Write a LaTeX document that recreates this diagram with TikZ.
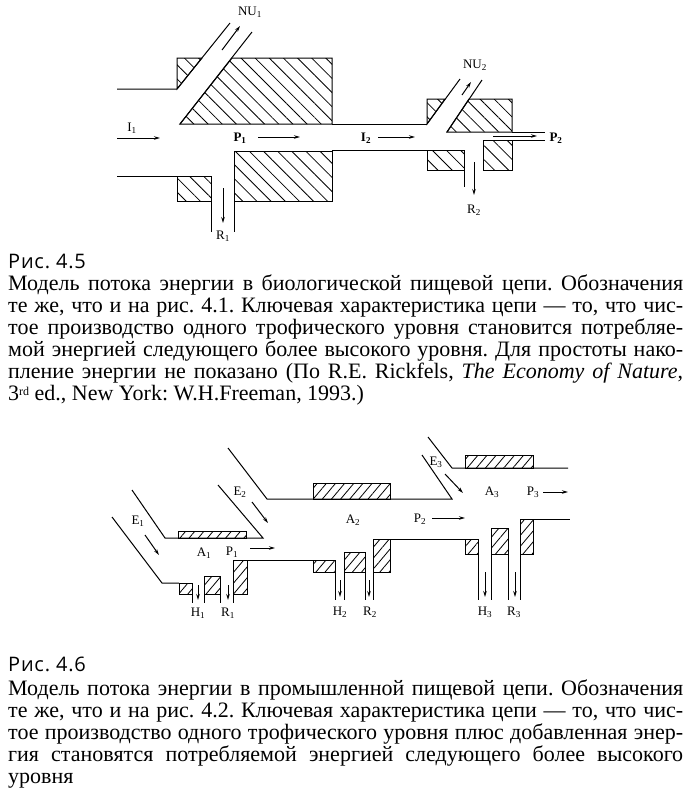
\documentclass[tikz,border=0pt]{standalone}
\usepackage{fontspec}
\setmainfont{Liberation Serif}
\newfontfamily\capfont[LetterSpace=4]{Open Sans}
\usepackage{tikz}
\usetikzlibrary{arrows.meta,patterns.meta}
\frenchspacing
\newcommand{\supord}[1]{\raisebox{5pt}{\fontsize{12}{12}\selectfont #1}}

\begin{document}
\begin{tikzpicture}[x=1pt,y=-1pt,
  wall/.style={line width=1pt},
  hatchr/.style={draw,line width=1pt,pattern={Lines[angle=-45,distance=10pt,line width=0.8pt]}},
  hatchl/.style={draw,line width=1pt,pattern={Lines[angle=50,distance=7pt,line width=0.8pt]}},
  flow/.style={-{Stealth[length=6pt,width=3.5pt]},line width=1pt},
  lbl/.style={inner sep=0pt,font=\fontsize{13}{15}\selectfont},
  blbl/.style={inner sep=0pt,font=\fontsize{13}{15}\selectfont\bfseries},
  capt/.style={anchor=base west,inner sep=0pt,font=\capfont\fontsize{20}{22}\selectfont},
  txt/.style={anchor=base west,inner sep=0pt,font=\fontsize{22}{22}\selectfont}]
\useasboundingbox (0,0) rectangle (694,807);
% --- Рис. 4.5: first trophic level ---
\draw[wall] (117,89) -- (177,89) -- (230,23);
\draw[hatchr] (177,89) -- (177,58) -- (202,58) -- cycle;
\draw[hatchr] (180,124) -- (232,58) -- (332,58) -- (332,124) -- cycle;
\draw[wall] (180,124) -- (252,32);
\draw[wall] (332,124) -- (427,124);
\draw[wall] (117,176) -- (177,176);
\draw[hatchr] (177,176) rectangle (211,201);
\draw[wall] (211,201) -- (211,232);
\draw[hatchr] (234,151) rectangle (332,201);
\draw[wall] (234,201) -- (234,232);
\draw[wall] (332,150) -- (427,150);
% --- second trophic level ---
\draw[hatchr] (427,124) -- (427,99) -- (445,99) -- cycle;
\draw[wall] (427,124) -- (460,79);
\draw[hatchr] (447,132) -- (469,99) -- (512,99) -- (512,132) -- cycle;
\draw[wall] (447,132) -- (482,80);
\draw[wall] (512,132) -- (545,132);
\draw[wall] (512,140) -- (545,140);
\draw[hatchr] (427,150) rectangle (464,170);
\draw[wall] (464,170) -- (464,187);
\draw[hatchr] (483,140) rectangle (512,170);
% --- labels and flows of 4.5 ---
\node[lbl] (nu1) at (250,12) {NU\textsubscript{1}};
\node[lbl] (i1) at (132,128) {I\textsubscript{1}};
\node[blbl] (p1) at (240,138) {P\textsubscript{1}};
\node[blbl] (i2) at (366,138) {I\textsubscript{2}};
\node[lbl] (r1) at (223,236) {R\textsubscript{1}};
\node[lbl] (nu2) at (475,65) {NU\textsubscript{2}};
\node[blbl] (p2) at (556,138) {P\textsubscript{2}};
\node[lbl] (r2) at (474,210) {R\textsubscript{2}};
\coordinate (nu1s) at (222,50);  \coordinate (nu1e) at (240,26);
\coordinate (i1s) at (117,138);  \coordinate (i1e) at (160,138);
\coordinate (p1s) at (258,137);  \coordinate (p1e) at (300,137);
\coordinate (i2s) at (378,137);  \coordinate (i2e) at (415,137);
\coordinate (r1s) at (223,188);  \coordinate (r1e) at (223,223);
\coordinate (nu2s) at (462,95);  \coordinate (nu2e) at (471,82);
\coordinate (p2s) at (493,136);  \coordinate (p2e) at (537,136);
\coordinate (r2s) at (474,162);  \coordinate (r2e) at (474,195);
\foreach \f in {nu1,i1,p1,i2,r1,nu2,p2,r2}
  \draw[flow] (\f s) -- (\f e);
% --- Рис. 4.6: three levels with added energy ---
\draw[wall] (112,517) -- (162,583) -- (179,583);
\draw[hatchl] (179,583) rectangle (192,594);
\draw[hatchl] (204,576) rectangle (220,594);
\draw[hatchl] (233,560) rectangle (247,594);
\draw[wall] (247,560) -- (313,560);
\draw[hatchl] (313,560) rectangle (335,572);
\draw[hatchl] (344,552) rectangle (365,572);
\draw[hatchl] (373,539) rectangle (390,572);
\draw[wall] (390,539) -- (465,539);
\draw[hatchl] (465,539) rectangle (478,554);
\draw[hatchl] (491,528) rectangle (508,554);
\draw[hatchl] (520,519) rectangle (533,554);
\draw[wall] (533,519) -- (570,519);
\foreach \x in {192,204,220,233} \draw[wall] (\x,594) -- (\x,603);
\foreach \x in {335,344,365,373} \draw[wall] (\x,572) -- (\x,600);
\foreach \x in {478,491,508,520} \draw[wall] (\x,554) -- (\x,600);
% upper walls and inlets
\draw[wall] (132,490) -- (165,538) -- (263,538) -- (218,485);
\draw[hatchl] (178,531) rectangle (246,538);
\draw[wall] (228,448) -- (267,499) -- (452,499) -- (422,455);
\draw[hatchl] (313,483) rectangle (390,499);
\draw[wall] (428,437) -- (452,468) -- (568,468);
\draw[hatchl] (465,455) rectangle (533,468);
% --- labels and flows of 4.6 ---
\node[lbl] (e1) at (138,521) {E\textsubscript{1}};
\node[lbl] (e2) at (240,492) {E\textsubscript{2}};
\node[lbl] (e3) at (436,462) {E\textsubscript{3}};
\node[lbl] (a1) at (204,553) {A\textsubscript{1}};
\node[lbl] (a2) at (353,520) {A\textsubscript{2}};
\node[lbl] (a3) at (492,492) {A\textsubscript{3}};
\node[lbl] (q1) at (232,552) {P\textsubscript{1}};
\node[lbl] (q2) at (420,519) {P\textsubscript{2}};
\node[lbl] (q3) at (533,492) {P\textsubscript{3}};
\node[lbl] (h1) at (198,613) {H\textsubscript{1}};
\node[lbl] (s1) at (228,613) {R\textsubscript{1}};
\node[lbl] (h2) at (340,612) {H\textsubscript{2}};
\node[lbl] (s2) at (370,612) {R\textsubscript{2}};
\node[lbl] (h3) at (485,612) {H\textsubscript{3}};
\node[lbl] (s3) at (514,612) {R\textsubscript{3}};
\coordinate (e1s) at (145,535);  \coordinate (e1e) at (159,555);
\coordinate (e2s) at (252,502);  \coordinate (e2e) at (268,523);
\coordinate (e3s) at (445,474);  \coordinate (e3e) at (463,493);
\coordinate (q1s) at (250,548);  \coordinate (q1e) at (275,548);
\coordinate (q2s) at (432,518);  \coordinate (q2e) at (465,518);
\coordinate (q3s) at (543,492);  \coordinate (q3e) at (568,492);
\coordinate (h1s) at (198,585);  \coordinate (h1e) at (198,600);
\coordinate (s1s) at (228,585);  \coordinate (s1e) at (228,600);
\coordinate (h2s) at (340,580);  \coordinate (h2e) at (340,597);
\coordinate (s2s) at (369,580);  \coordinate (s2e) at (369,597);
\coordinate (h3s) at (485,572);  \coordinate (h3e) at (485,597);
\coordinate (s3s) at (515,572);  \coordinate (s3e) at (515,597);
\foreach \f in {e1,e2,e3,q1,q2,q3,h1,s1,h2,s2,h3,s3}
  \draw[flow] (\f s) -- (\f e);
% --- captions ---
\node[capt] (cap1) at (8,268) {Рис. 4.5};
\node[txt] (t1a) at (8,290) {\makebox[675pt][s]{Модель потока энергии в биологической пищевой цепи. Обозначения}};
\node[txt] (t1b) at (8,312) {\makebox[675pt][s]{те же, что и на рис. 4.1. Ключевая характеристика цепи — то, что чис-}};
\node[txt] (t1c) at (8,334) {\makebox[675pt][s]{тое производство одного трофического уровня становится потребляе-}};
\node[txt] (t1d) at (8,356) {\makebox[675pt][s]{мой энергией следующего более высокого уровня. Для простоты нако-}};
\node[txt] (t1e) at (8,378) {\makebox[675pt][s]{пление энергии не показано (По R.E. Rickfels, \textit{The Economy of Nature},}};
\node[txt] (t1f) at (8,400) {3\supord{rd} ed., New York: W.H.Freeman, 1993.)};
\node[capt] (cap2) at (8,671) {Рис. 4.6};
\node[txt] (t2a) at (8,695) {\makebox[675pt][s]{Модель потока энергии в промышленной пищевой цепи. Обозначения}};
\node[txt] (t2b) at (8,717) {\makebox[675pt][s]{те же, что и на рис. 4.2. Ключевая характеристика цепи — то, что чис-}};
\node[txt] (t2c) at (8,739) {\makebox[675pt][s]{тое производство одного трофического уровня плюс добавленная энер-}};
\node[txt] (t2d) at (8,761) {\makebox[675pt][s]{гия становятся потребляемой энергией следующего более высокого}};
\node[txt] (t2e) at (8,783) {уровня};
\end{tikzpicture}
\end{document}
